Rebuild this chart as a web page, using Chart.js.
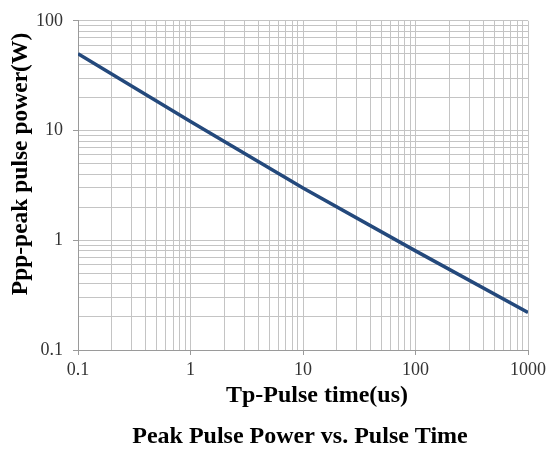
<!DOCTYPE html>
<html>
<head>
<meta charset="utf-8">
<script src="https://cdn.jsdelivr.net/npm/chart.js@4"></script>
<style>
  html, body { margin: 0; padding: 0; background: #ffffff; }
  canvas { display: block; }
</style>
</head>
<body>
<canvas id="c" width="550" height="452"></canvas>
<script>
// ---- data ----
const pulseTimeUs = [0.1, 1, 10, 100, 1000];
const peakPowerW  = [50, 12.1, 3.0, 0.80, 0.22];
const xTickLabels = ['0.1', '1', '10', '100', '1000'];
const yTickLabels = ['0.1', '1', '10', '100'];
const xTitle = 'Tp-Pulse time(us)';
const yTitle = 'Ppp-peak pulse power(W)';
const caption = 'Peak Pulse Power vs. Pulse Time';

const SERIF = '"Liberation Serif", "Times New Roman", serif';
const GRID = '#c4c4c4';
const AXIS = '#9a9a9a';

function logGridTicks(labels) {
  const lo = Math.log10(Number(labels[0]));
  const hi = Math.log10(Number(labels[labels.length - 1]));
  const out = [];
  for (let e = lo; e <= hi; e++) {
    for (let m = 1; m <= 9; m++) {
      const v = Number((m * Math.pow(10, e)).toPrecision(6));
      if (e === hi && m > 1) break;
      out.push({ value: v, major: m === 1 });
    }
  }
  return out;
}
function labelFor(labels, v) {
  const hit = labels.find(l => Math.abs(Number(l) - v) / v < 1e-6);
  return hit === undefined ? '' : hit;
}

const titlesPlugin = {
  id: 'titles',
  afterDraw(chart) {
    const ctx = chart.ctx;
    ctx.save();
    ctx.fillStyle = '#000';
    ctx.textAlign = 'center';
    ctx.textBaseline = 'middle';
    ctx.font = 'bold 24px ' + SERIF;
    ctx.fillText(xTitle, 317, 396);
    ctx.font = 'bold 24px ' + SERIF;
    ctx.fillText(caption, 300, 437);
    ctx.translate(21, 164);
    ctx.rotate(-Math.PI / 2);
    ctx.font = 'bold 23.5px ' + SERIF;
    ctx.fillText(yTitle, 0, 0);
    ctx.restore();
  }
};

new Chart(document.getElementById('c'), {
  type: 'line',
  data: {
    datasets: [{
      data: pulseTimeUs.map((x, i) => ({ x: x, y: peakPowerW[i] })),
      borderColor: '#24497c',
      borderWidth: 3.5,
      pointRadius: 0,
      tension: 0,
      fill: false
    }]
  },
  options: {
    responsive: false,
    devicePixelRatio: 1,
    animation: false,
    layout: { padding: { left: 0, top: 19, right: 21, bottom: 0 } },
    plugins: { legend: { display: false }, tooltip: { enabled: false }, title: { display: false } },
    scales: {
      x: {
        type: 'logarithmic',
        min: 0.1, max: 1000,
        afterBuildTicks(scale) { scale.ticks = logGridTicks(xTickLabels); },
        afterFit(scale) { scale.height = 102; },
        grid: {
          color: GRID,
          lineWidth: 1,
          tickLength: 5,
          tickColor: (c) => (c.tick && c.tick.major ? AXIS : 'rgba(0,0,0,0)')
        },
        border: { color: AXIS, width: 1 },
        ticks: {
          autoSkip: false,
          maxRotation: 0,
          padding: 4,
          color: '#333',
          font: { family: SERIF, size: 18 },
          callback: (v) => labelFor(xTickLabels, v)
        }
      },
      y: {
        type: 'logarithmic',
        min: 0.1, max: 100,
        afterBuildTicks(scale) { scale.ticks = logGridTicks(yTickLabels); },
        afterFit(scale) { scale.width = 78; },
        grid: {
          color: GRID,
          lineWidth: 1,
          tickLength: 5,
          tickColor: (c) => (c.tick && c.tick.major ? AXIS : 'rgba(0,0,0,0)')
        },
        border: { color: AXIS, width: 1 },
        ticks: {
          autoSkip: false,
          padding: 10,
          color: '#333',
          font: { family: SERIF, size: 18 },
          callback: (v) => labelFor(yTickLabels, v)
        }
      }
    }
  },
  plugins: [titlesPlugin]
});
</script>
</body>
</html>
